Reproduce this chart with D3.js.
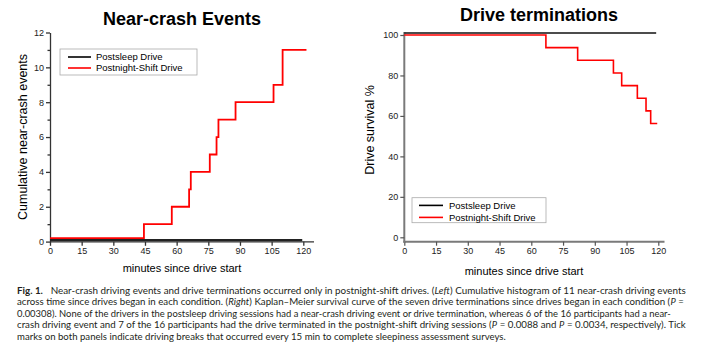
<!DOCTYPE html>
<html>
<head>
<meta charset="utf-8">
<script src="https://cdn.jsdelivr.net/npm/d3@7"></script>
<style>
  body { margin: 0; background: #fff; }
  svg { display: block; font-family: Arial, "Liberation Sans", sans-serif; }
</style>
</head>
<body>
<svg id="fig" width="702" height="351"></svg>
<script>
// ---- data ----
const minuteTicks = [0, 15, 30, 45, 60, 75, 90, 105, 120];
const crashTicks = [0, 2, 4, 6, 8, 10, 12];
const survivalTicks = [0, 20, 40, 60, 80, 100];

const seriesNames = ["Postsleep Drive", "Postnight-Shift Drive"];
const seriesColors = ["#000000", "#ff0000"];

// cumulative near-crash events (step after)
const crashSleepTime = [0, 119.5];
const crashSleepCount = [0.08, 0.08];
const crashShiftTime = [0, 44.5, 57.7, 65.9, 66.7, 75.7, 78.9, 79.8, 87.9, 105.9, 110.2, 121.5];
const crashShiftCount = [0.2, 1, 2, 3, 4, 5, 6, 7, 8, 9, 11, 11];

// Kaplan-Meier survival (step after)
const survSleepTime = [0, 119];
const survSleepPct = [101, 101];
const survShiftTime = [0, 66.9, 81.9, 98.8, 102.7, 110.1, 114.2, 116.4, 119.5];
const survShiftPct = [100, 93.75, 87.5, 81.25, 75, 68.75, 62.5, 56.25, 56.25];

const captionLines = [
  [["b", "Fig. 1."], ["n", "\u00a0\u00a0\u00a0Near-crash driving events and drive terminations occurred only in postnight-shift drives. ("], ["i", "Left"], ["n", ") Cumulative histogram of 11 near-crash driving events"]],
  [["n", "across time since drives began in each condition. ("], ["i", "Right"], ["n", ") Kaplan\u2013Meier survival curve of the seven drive terminations since drives began in each condition ("], ["i", "P"], ["n", " ="]],
  [["n", "0.00308). None of the drivers in the postsleep driving sessions had a near-crash driving event or drive termination, whereas 6 of the 16 participants had a near-"]],
  [["n", "crash driving event and 7 of the 16 participants had the drive terminated in the postnight-shift driving sessions ("], ["i", "P"], ["n", " = 0.0088 and "], ["i", "P"], ["n", " = 0.0034, respectively). Tick"]],
  [["n", "marks on both panels indicate driving breaks that occurred every 15 min to complete sleepiness assessment surveys."]]
];
const captionEnds = [686, 684, 671, 686, 506];

const svg = d3.select("#fig");
const zip = (xs, ys) => xs.map((x, i) => ({ x, y: ys[i] }));

// ---- left panel ----
const xL = d3.scaleLinear().domain([0, 120]).range([50, 303.3]);
const yL = d3.scaleLinear().domain([0, 12]).range([241.6, 32.5]);

const axisColL = "#333";
const gxL = svg.append("g").attr("transform", "translate(0,241.8)")
  .call(d3.axisBottom(xL).tickValues(minuteTicks).tickSize(4).tickPadding(2).tickSizeOuter(0));
gxL.select(".domain").attr("d", `M${xL(0)},0H314`);
const gyL = svg.append("g").attr("transform", "translate(50,0)")
  .call(d3.axisLeft(yL).tickValues(crashTicks).tickSize(4).tickPadding(2).tickSizeOuter(0));
const gmL = svg.append("g").attr("transform", "translate(50,0)")
  .call(d3.axisLeft(yL).tickValues(d3.range(1, 12, 2)).tickSize(2.5).tickFormat("").tickSizeOuter(0));
gmL.select(".domain").remove();
[gxL, gyL, gmL].forEach(g => {
  g.selectAll("path, line").attr("stroke", axisColL).attr("stroke-width", 1.3);
  g.selectAll("text").attr("fill", "#222").style("font-size", "9px");
});

const lineL = d3.line().x(d => xL(d.x)).y(d => yL(d.y)).curve(d3.curveStepAfter);
svg.append("path").datum(zip(crashSleepTime, crashSleepCount))
  .attr("d", lineL).attr("fill", "none").attr("stroke", "#222").attr("stroke-width", 2.2);
svg.append("path").datum(zip(crashShiftTime, crashShiftCount))
  .attr("d", lineL).attr("fill", "none").attr("stroke", seriesColors[1]).attr("stroke-width", 1.8);

svg.append("text").attr("x", 182).attr("y", 25).attr("text-anchor", "middle")
  .style("font-size", "18px").style("font-weight", "bold").text("Near-crash Events");
svg.append("text").attr("transform", "rotate(-90)").attr("x", -137).attr("y", 27)
  .attr("text-anchor", "middle").style("font-size", "12.5px").text("Cumulative near-crash events");
svg.append("text").attr("x", 182).attr("y", 272).attr("text-anchor", "middle")
  .style("font-size", "11px").text("minutes since drive start");

// legend left
const legL = svg.append("g").attr("transform", "translate(60,49)");
legL.append("rect").attr("width", 137).attr("height", 26)
  .attr("fill", "#fff").attr("stroke", "#aaa").attr("stroke-width", 0.8);
seriesNames.forEach((name, i) => {
  legL.append("line").attr("x1", 8).attr("x2", 31).attr("y1", 8 + i * 11).attr("y2", 8 + i * 11)
    .attr("stroke", seriesColors[i]).attr("stroke-width", 1.6);
  legL.append("text").attr("x", 36).attr("y", 11.3 + i * 11)
    .style("font-size", "9.5px").text(name);
});

// ---- right panel ----
const xR = d3.scaleLinear().domain([0, 120]).range([404.3, 658.3]);
const yR = d3.scaleLinear().domain([0, 100]).range([237.3, 35]);

const gxR = svg.append("g").attr("transform", "translate(0,241.7)")
  .call(d3.axisBottom(xR).tickValues(minuteTicks).tickSize(4).tickPadding(2).tickSizeOuter(0));
gxR.select(".domain").attr("d", `M${xR(0) - 1},0H664.5`);
const gyR = svg.append("g").attr("transform", "translate(404.3,0)")
  .call(d3.axisLeft(yR).tickValues(survivalTicks).tickSize(4).tickPadding(2).tickSizeOuter(0));
gyR.select(".domain").attr("d", "M0,32V242.7");
[gxR, gyR].forEach(g => {
  g.selectAll("path").attr("stroke", "#7a7a7a").attr("stroke-width", 2);
  g.selectAll("line").attr("stroke", "#555").attr("stroke-width", 1.2);
  g.selectAll("text").attr("fill", "#222").style("font-size", "9px");
});

const lineR = d3.line().x(d => xR(d.x)).y(d => yR(d.y)).curve(d3.curveStepAfter);
svg.append("path").datum(zip(survSleepTime, survSleepPct))
  .attr("d", lineR).attr("fill", "none").attr("stroke", "#111").attr("stroke-width", 1.6);
svg.append("path").datum(zip(survShiftTime, survShiftPct))
  .attr("d", lineR).attr("fill", "none").attr("stroke", seriesColors[1]).attr("stroke-width", 1.6);

svg.append("text").attr("x", 539).attr("y", 21).attr("text-anchor", "middle")
  .style("font-size", "18px").style("font-weight", "bold").text("Drive terminations");
svg.append("text").attr("transform", "rotate(-90)").attr("x", -130).attr("y", 374)
  .attr("text-anchor", "middle").style("font-size", "12.5px").text("Drive survival %");
svg.append("text").attr("x", 524).attr("y", 275).attr("text-anchor", "middle")
  .style("font-size", "11px").text("minutes since drive start");

// legend right
const legR = svg.append("g").attr("transform", "translate(412,197.7)");
legR.append("rect").attr("width", 134).attr("height", 25)
  .attr("fill", "#fff").attr("stroke", "#aaa").attr("stroke-width", 0.8);
seriesNames.forEach((name, i) => {
  legR.append("line").attr("x1", 7).attr("x2", 31).attr("y1", 7.7 + i * 12).attr("y2", 7.7 + i * 12)
    .attr("stroke", seriesColors[i]).attr("stroke-width", 1.6);
  legR.append("text").attr("x", 37).attr("y", 11.2 + i * 12)
    .style("font-size", "9.5px").text(name);
});

// ---- caption: each run is its own text, squeezed to fit the line width ----
const cap = svg.append("g")
  .style("font-family", "Lato, 'Noto Sans', sans-serif")
  .style("font-size", "9.2px").attr("fill", "#231f20");
captionLines.forEach((parts, i) => {
  const y = 294 + i * 11.4;
  const runs = parts.map(([kind, str]) => {
    const t = cap.append("text").attr("y", y).text(str)
      .attr("xml:space", "preserve").style("white-space", "pre");
    if (kind === "b") t.style("font-weight", "bold");
    if (kind === "i") t.style("font-style", "italic");
    return { t, w: t.node().getComputedTextLength() };
  });
  const k = (captionEnds[i] - 17) / d3.sum(runs, r => r.w);
  let x = 17;
  runs.forEach(r => {
    const w = r.w * k;
    r.t.attr("x", x).attr("textLength", w - 0.2).attr("lengthAdjust", "spacingAndGlyphs");
    x += w;
  });
});
</script>
</body>
</html>
